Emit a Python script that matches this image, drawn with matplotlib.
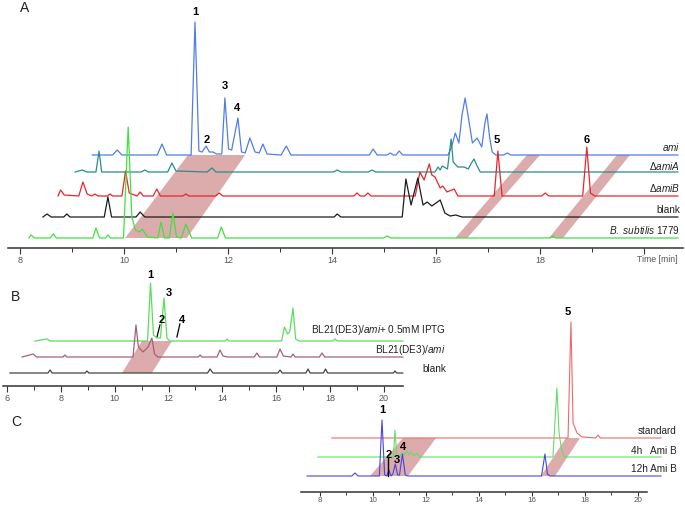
import matplotlib
matplotlib.use('Agg')
import matplotlib.pyplot as plt
from matplotlib.ticker import FixedLocator

plt.rcParams['font.family'] = ['Liberation Sans', 'DejaVu Sans']
plt.rcParams['mathtext.fontset'] = 'custom'
plt.rcParams['mathtext.rm'] = 'Liberation Sans'
plt.rcParams['mathtext.it'] = 'Liberation Sans:italic'

# ---- panel A traces: (time [min] as drawn, height above own baseline) ----
a_ami = [(9.39, 0), (9.78, 0), (9.87, 5), (9.96, 0), (10.64, 0), (10.73, 11), (10.82, 0),
         (11.29, 0), (11.365, 133), (11.44, 4), (11.50, 3), (11.58, 9), (11.64, 3), (11.71, 3),
         (11.78, 1), (11.88, 1), (11.94, 57), (12.01, 6), (12.07, 5), (12.19, 37), (12.26, 3),
         (12.33, 2), (12.42, 17), (12.52, 3), (12.60, 2), (12.67, 11), (12.75, 1), (13.02, 0),
         (13.12, 9), (13.21, 0), (14.72, 0), (14.79, 6), (14.87, 0), (15.06, 0), (15.12, 2),
         (15.18, 0), (15.23, 0), (15.29, 4), (15.36, 0), (16.23, 0), (16.30, 8), (16.37, 22),
         (16.44, 12), (16.50, 40), (16.56, 57), (16.62, 38), (16.70, 12), (16.79, 17),
         (16.88, 8), (16.94, 32), (16.98, 41), (17.03, 18), (17.08, 3), (17.15, 0), (17.30, 0),
         (17.37, 2), (17.44, 0), (20.65, 0)]
a_amiA = [(9.06, 0), (9.20, 2), (9.28, 0), (9.46, 0), (9.52, 21), (9.57, 0), (10.33, 0),
          (10.40, 2), (10.47, 0), (10.84, 0), (10.92, 9), (11.00, 1), (11.60, 0), (11.69, 4),
          (11.77, 0), (14.03, 0), (14.10, 2), (14.17, 0), (14.70, 0), (14.77, 2), (14.84, 0),
          (15.98, 0), (16.04, 5), (16.08, 2), (16.12, 6), (16.22, 3), (16.29, 33), (16.33, 10),
          (16.42, 5), (16.54, 5), (16.62, 3), (16.68, 9), (16.73, 13), (16.79, 6), (16.85, 0),
          (20.65, 0)]
a_amiB = [(8.73, 0), (8.78, 6), (8.85, 1), (9.13, 0), (9.21, 14), (9.29, 2), (9.38, 0),
          (9.44, 2), (9.50, 0), (9.68, 0), (9.73, 2), (9.78, 0), (9.96, 0), (10.03, 25),
          (10.10, 3), (10.25, 0), (10.31, 4), (10.37, 0), (10.56, 0), (10.63, 7), (10.70, 0),
          (11.13, 0), (11.19, 2), (11.25, 0), (11.76, 0), (11.83, 3), (11.90, 0), (14.42, 0),
          (14.48, 3), (14.54, 0), (14.63, 0), (14.69, 3), (14.75, 0), (15.60, 0), (15.69, 24),
          (15.77, 16), (15.87, 32), (15.92, 21), (15.98, 19), (16.08, 8), (16.13, 10),
          (16.21, 4), (16.35, 7), (16.42, 0), (17.12, 0), (17.19, 45), (17.27, 0), (18.03, 0),
          (18.10, 3), (18.17, 0), (18.82, 0), (18.90, 49), (18.97, 3), (19.05, 0), (20.65, 0)]
a_blank = [(8.44, 0), (8.52, 3), (8.60, 0), (8.84, 0), (8.90, 3), (8.96, 0), (9.62, 0),
           (9.69, 20), (9.76, 0), (10.23, 0), (10.31, 5), (10.40, 0), (14.04, 0), (14.10, 3),
           (14.17, 0), (15.35, 0), (15.42, 38), (15.52, 12), (15.65, 39), (15.75, 12),
           (15.83, 15), (15.92, 11), (16.08, 17), (16.17, 4), (16.27, 1), (16.38, 2),
           (16.50, 0), (20.65, 0)]
a_bsub = [(8.17, 0), (8.21, 3), (8.28, 0), (8.58, 0), (8.64, 4), (8.70, 0), (9.40, 0),
          (9.46, 10), (9.53, 0), (9.64, 0), (9.69, 3), (9.74, 0), (9.99, 0), (10.08, 111),
          (10.15, 21), (10.22, 8), (10.30, 6), (10.35, 9), (10.45, 1), (10.65, 0), (10.71, 16),
          (10.78, 0), (10.87, 0), (10.94, 25), (11.01, 1), (11.10, 0), (11.19, 14), (11.30, 0),
          (11.80, 0), (11.87, 11), (11.95, 0), (14.99, 0), (15.06, 2), (15.13, 0), (18.20, 0),
          (18.25, 2), (18.30, 0), (20.65, 0)]

# ---- panel B traces ----
b_iptg = [(7.04, 0), (7.49, 2), (7.60, 0), (11.22, 0), (11.33, 58), (11.44, 6), (11.56, 3),
          (11.70, 3), (11.83, 43), (11.94, 3), (12.05, 0), (14.10, 0), (14.17, 2), (14.25, 0),
          (16.20, 0), (16.30, 14), (16.42, 7), (16.50, 9), (16.62, 33), (16.72, 2), (16.85, 0),
          (18.10, 0), (18.18, 2), (18.26, 0), (20.70, 0)]
b_ami = [(6.56, 0), (6.97, 3), (7.10, 0), (8.08, 0), (8.15, 2), (8.22, 0), (10.68, 0),
         (10.79, 32), (10.88, 10), (11.05, 5), (11.24, 10), (11.38, 19), (11.48, 3), (11.60, 0),
         (13.10, 0), (13.17, 2), (13.24, 0), (13.80, 0), (13.91, 7), (14.02, 1), (14.20, 0),
         (15.18, 0), (15.28, 4), (15.38, 0), (16.02, 0), (16.14, 8), (16.26, 1), (16.55, 0),
         (16.62, 3), (16.70, 0), (17.60, 0), (17.70, 4), (17.80, 0), (20.70, 0)]
b_blank = [(6.11, 0), (7.52, 0), (7.60, 3), (7.68, 0), (8.90, 0), (8.97, 2), (9.04, 0),
           (13.45, 0), (13.54, 4), (13.65, 0), (16.06, 0), (16.14, 3), (16.22, 0), (17.10, 0),
           (17.18, 4), (17.26, 0), (17.75, 0), (17.83, 4), (17.91, 0), (20.35, 0), (20.41, 2),
           (20.47, 0), (20.70, 0)]

# ---- panel C traces ----
c_std = [(8.45, 0), (17.36, 0), (17.47, 116), (17.55, 15), (17.70, 5), (17.89, 1), (18.40, 0),
         (18.49, 3), (18.58, 0), (20.87, 0)]
c_4h = [(7.92, 0), (10.77, 0), (10.83, 27), (10.90, 0), (11.00, 0), (11.10, 4), (11.18, 2),
        (11.28, 6), (11.36, 2), (11.45, 5), (11.55, 1), (11.66, 4), (11.76, 0), (16.79, 0),
        (16.94, 69), (17.02, 24), (17.12, 7), (17.22, 0), (20.87, 0)]
c_12h = [(7.51, 0), (9.20, 0), (9.32, 3), (9.44, 0), (10.24, 0), (10.34, 56), (10.44, 1),
         (10.52, 0), (10.60, 6), (10.68, 0), (10.75, 2), (10.84, 12), (10.93, 1), (11.00, 1),
         (11.11, 22), (11.22, 1), (11.32, 0), (16.36, 0), (16.49, 22), (16.58, 2), (16.68, 0),
         (20.87, 0)]

# shaded bands: bottom-left, bottom-right, top-left, top-right times
a_bands = [(10.02, 11.21, 11.23, 12.33), (16.37, 16.60, 17.75, 18.00), (18.17, 18.44, 19.48, 19.73)]
b_bands = [(10.27, 11.38, 11.01, 12.13)]
c_bands = [(9.89, 11.32, 11.13, 12.38), (16.34, 16.87, 17.28, 17.81)]

a_names = ['$\\mathit{ami}$', '$\\mathit{\\Delta amiA}$', '$\\mathit{\\Delta amiB}$', 'blank',
           '$\\mathit{B.\\ subtilis}$ 1779']
b_names = ['BL21(DE3)/$\\mathit{ami}$+ 0.5mM IPTG', 'BL21(DE3)/$\\mathit{ami}$', 'blank']
c_names = ['standard', '4h   Ami B', '12h Ami B']

a_peaks = [('1', 11.37, 236), ('2', 11.60, 108), ('3', 11.94, 162), ('4', 12.17, 140),
           ('5', 17.17, 108), ('6', 18.90, 108)]
b_peaks = [('1', 11.31, 111), ('3', 12.02, 93), ('2', 11.76, 66), ('4', 12.50, 66)]
c_peaks = [('1', 10.34, 82), ('5', 17.36, 180), ('2', 10.60, 37), ('3', 10.91, 32), ('4', 11.13, 45)]

W, H = 685, 505
fig = plt.figure(figsize=(W / 100, H / 100), dpi=100)
band_col = '#dcabab'


def make_axes(top, bottom, xlim, ylim, spine, majors, labels, minors, lsize=6.5, pad=2, tlen=4):
    ax = fig.add_axes([0, 1 - bottom / H, 1, (bottom - top) / H])
    ax.patch.set_visible(False)
    ax.set_xlim(xlim)
    ax.set_ylim(ylim)
    for s in ['top', 'right', 'left']:
        ax.spines[s].set_visible(False)
    ax.spines['bottom'].set_bounds(*spine)
    ax.spines['bottom'].set_color('#333333')
    ax.spines['bottom'].set_linewidth(1.1)
    ax.set_yticks([])
    ax.set_xticks(majors)
    ax.set_xticklabels(labels)
    ax.xaxis.set_minor_locator(FixedLocator(minors))
    ax.tick_params(axis='x', which='major', length=tlen, width=0.8, color='#333333',
                   labelsize=lsize, labelcolor='#555555', pad=pad)
    ax.tick_params(axis='x', which='minor', length=tlen * 0.65, width=0.7, color='#333333')
    return ax


def trace(ax, pts, base, color, lw=0.9):
    t = [p[0] for p in pts]
    h = [base + p[1] for p in pts]
    ax.plot(t, h, color=color, lw=lw, zorder=3, solid_joinstyle='round')


def bands(ax, lst, low, high):
    for bl, br, tl, tr in lst:
        ax.fill([bl, br, tr, tl], [low, low, high, high], color=band_col, lw=0, zorder=1)


# ---------------- A ----------------
axA = make_axes(0, 248, (7.615, 20.788), (0, 248), (7.77, 20.75),
                list(range(8, 21, 2)), ['8', '10', '12', '14', '16', '18', ''],
                list(range(9, 20, 2)))
a_base = [93, 76, 52, 31, 10]
a_cols = ['#4f7fe6', '#2a8c8c', '#e8252b', '#1c1c1c', '#3fe23f']
bands(axA, a_bands, a_base[4], a_base[0])
for pts, b, c in zip([a_ami, a_amiA, a_amiB, a_blank, a_bsub], a_base, a_cols):
    trace(axA, pts, b, c)
for name, y in zip(a_names, [101, 82, 60, 38, 18]):
    axA.text(20.69, y, name, ha='right', va='center', fontsize=7.2, color='#222222')
for s, t, y in a_peaks:
    axA.text(t, y, s, ha='center', va='center', fontsize=8, fontweight='bold')
axA.text(20.25, -12, 'Time [min]', ha='center', va='center', fontsize=6.3, color='#555555')

# ---------------- B ----------------
axB = make_axes(268, 386, (5.740, 31.18), (0, 118), (5.85, 20.705),
                list(range(6, 21, 2)), [str(v) for v in range(6, 21, 2)],
                list(range(7, 20, 2)))
b_base = [45, 29, 13]
b_cols = ['#5ade5a', '#a3607c', '#444444']
bands(axB, b_bands, b_base[2], b_base[0])
for pts, b, c in zip([b_iptg, b_ami, b_blank], b_base, b_cols):
    trace(axB, pts, b, c, lw=0.9)
for name, y in zip(b_names, [56, 36, 17]):
    axB.text(22.30, y, name, ha='right', va='center', fontsize=7.2, color='#222222', clip_on=False)
for s, t, y in b_peaks:
    axB.text(t, y, s, ha='center', va='center', fontsize=8, fontweight='bold')
axB.plot([11.57, 11.68], [49, 61], color='black', lw=0.9)
axB.plot([12.31, 12.42], [49, 62], color='black', lw=0.9)

# ---------------- C ----------------
axC = make_axes(300, 492, (-4.075, 21.774), (0, 192), (7.283, 20.34),
                list(range(8, 21, 2)), [str(v) for v in range(8, 21, 2)],
                list(range(9, 20, 2)), lsize=5.8, pad=0.8, tlen=3)
c_base = [54, 35, 16]
c_cols = ['#f06868', '#66dd66', '#4646e0']
bands(axC, c_bands, c_base[2], c_base[0])
for pts, b, c in zip([c_std, c_4h, c_12h], c_base, c_cols):
    trace(axC, pts, b, c, lw=0.8)
for name, y in zip(c_names, [61, 41, 23]):
    axC.text(21.47, y, name, ha='right', va='center', fontsize=7.2, color='#222222')
for s, t, y in c_peaks:
    axC.text(t, y, s, ha='center', va='center', fontsize=8, fontweight='bold')
axC.plot([10.55, 10.55], [16, 35], color='black', lw=1.0, zorder=4)

# panel letters
for s, x, y in [('A', 25, 8), ('B', 16, 297), ('C', 16, 422)]:
    fig.text(x / W, 1 - y / H, s, ha='center', va='center', fontsize=10, color='#222222')

fig.savefig('out.png', dpi=100)
